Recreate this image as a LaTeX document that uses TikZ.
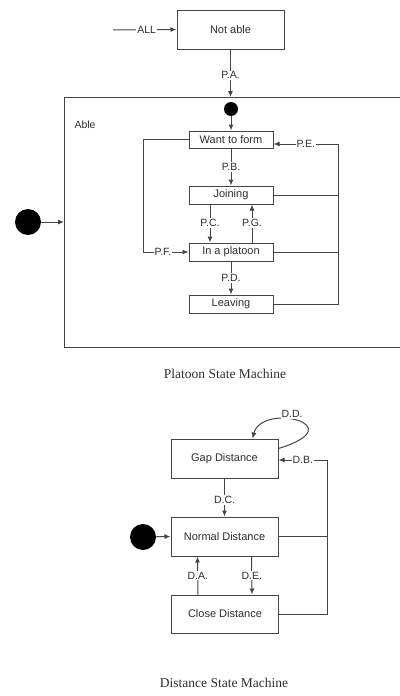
\documentclass[tikz,border=0pt]{standalone}
\usepackage{fontspec}
\setmainfont{Liberation Serif}
\setsansfont{Liberation Sans}
\usetikzlibrary{arrows.meta,calc}
\definecolor{ln}{HTML}{454545}
\definecolor{tx}{HTML}{2E2E2E}
\begin{document}
\begin{tikzpicture}[x=1pt,y=-1pt,
  conn/.style={draw=ln,line width=1pt},
  arr/.style={conn,-{Latex[length=6pt,width=5pt]}},
  state/.style={draw=ln,line width=1pt,fill=white,inner sep=0pt,font=\sffamily\fontsize{11}{12}\selectfont,text=tx},
  lbl/.style={fill=white,inner sep=1pt,font=\sffamily\fontsize{10.5}{11}\selectfont,text=tx},
  initdot/.style={circle,fill=black,inner sep=0pt},
  caption/.style={font=\fontsize{13.5}{15}\selectfont,text=tx}]
\useasboundingbox (0,0) rectangle (399,696);
% Platoon state machine
\node[state,minimum width=107pt,minimum height=39pt] (notable) at (230.5,29.5) {Not able};
\coordinate (allstart) at (113,30);
\draw[arr] (allstart) -- (notable.west) node[lbl,pos=0.53] {ALL};
% Able frame
\coordinate (ableTL) at (64,97);
\coordinate (ableBL) at (64,347);
\draw[conn] (402,97) -- (ableTL) -- (ableBL) -- (402,347);
\coordinate (paend) at (230.5,97);
\draw[arr] (notable.south) -- (paend) node[lbl,pos=0.54] {P.A.};
\node[anchor=west,font=\sffamily\fontsize{10.5}{11}\selectfont,text=tx] (able) at (71,125) {Able};
\node[initdot,minimum size=14pt] (init1) at (231,109) {};
\node[state,minimum width=84pt,minimum height=17pt] (want) at (231,139.5) {Want to form};
\node[state,minimum width=84pt,minimum height=18pt] (joining) at (231,195) {Joining};
\node[state,minimum width=84pt,minimum height=18pt] (platoon) at (231,252) {In a platoon};
\node[state,minimum width=84pt,minimum height=18pt] (leaving) at (231,304) {Leaving};
\draw[arr] (init1) -- (want.north);
\draw[arr] (want.south) -- (joining.north) node[lbl,midway] {P.B.};
\draw[arr] ([xshift=-21pt]joining.south) -- ([xshift=-21pt]platoon.north) node[lbl,pos=0.49] {P.C.};
\draw[arr] ([xshift=21pt]platoon.north) -- ([xshift=21pt]joining.south) node[lbl,pos=0.51] {P.G.};
\draw[arr] (platoon.south) -- (leaving.north) node[lbl,midway] {P.D.};
\coordinate (pfcorner) at (143,139.5);
\draw[arr] (want.west) -- (pfcorner) |- (platoon.west) node[lbl,pos=0.72] {P.F.};
\coordinate (railtop) at (338,144);
\draw[conn] (joining.east) -- (joining.east -| railtop);
\draw[conn] (platoon.east) -- (platoon.east -| railtop);
\draw[arr] (leaving.east) -| (railtop) -- ([yshift=-4.5pt]want.east) node[lbl,pos=0.5] {P.E.};
\node[initdot,minimum size=26pt] (init0) at (28,222) {};
\coordinate (ableentry) at (64,222);
\draw[arr] (init0) -- (ableentry);
\node[caption] (cap1) at (225,374) {Platoon State Machine};
% Distance state machine
\node[state,minimum width=107pt,minimum height=39pt] (gap) at (224.5,458.5) {Gap Distance};
\node[state,minimum width=107pt,minimum height=39pt] (normal) at (224.5,536.5) {Normal Distance};
\node[state,minimum width=107pt,minimum height=38pt] (close) at (225,614) {Close Distance};
\node[initdot,minimum size=26pt] (init2) at (143,537) {};
\draw[arr] (init2) -- (normal.west);
\draw[arr] (gap.south) -- (normal.north) node[lbl,pos=0.56] {D.C.};
\draw[arr] ([xshift=-27pt]close.north) -- ([xshift=-27pt]normal.south) node[lbl,pos=0.5] {D.A.};
\draw[arr] ([xshift=27pt]normal.south) -- ([xshift=27pt]close.north) node[lbl,pos=0.5] {D.E.};
\coordinate (rail2) at (327,460);
\draw[conn] (normal.east) -- (normal.east -| rail2);
\draw[arr] (close.east) -| (rail2) -- ([yshift=-1.5pt]gap.east) node[lbl,pos=0.5] {D.B.};
\draw[arr] ([yshift=10pt]gap.east) .. controls (355,425) and (262,402) .. ([xshift=28pt]gap.north);
\node[lbl] (ddlbl) at (292,414) {D.D.};
\node[caption] (cap2) at (224,683) {Distance State Machine};
\end{tikzpicture}
\end{document}
